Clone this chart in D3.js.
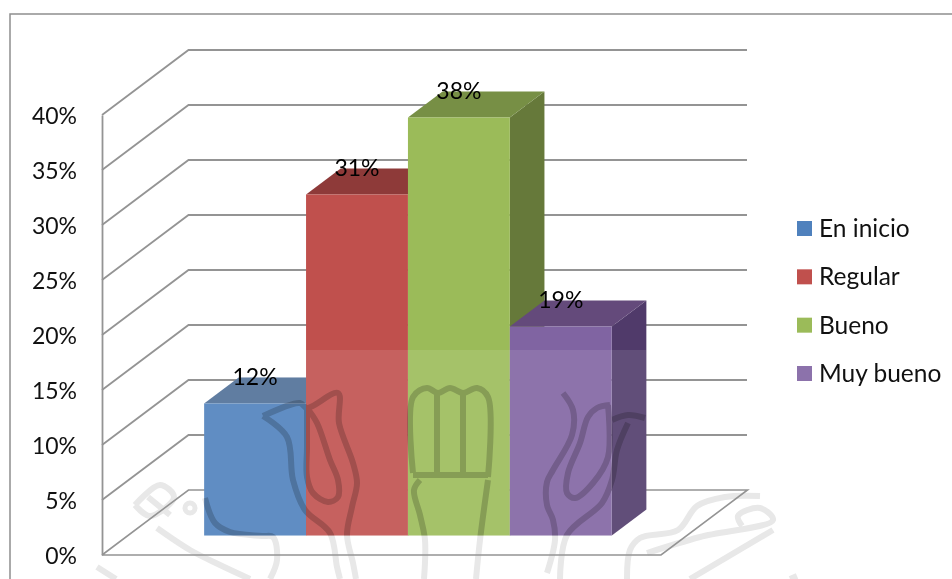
<!DOCTYPE html>
<html lang="es">
<head>
<meta charset="utf-8">
<script src="https://cdn.jsdelivr.net/npm/d3@7/dist/d3.min.js"></script>
<style>
  html, body { margin: 0; padding: 0; background: #fff; }
  svg { display: block; }
  text { font-family: Lato, "Open Sans", sans-serif; }
</style>
</head>
<body>
<svg id="chart" width="952" height="579"></svg>
<script>
// Chart data
const categories = ["En inicio", "Regular", "Bueno", "Muy bueno"];
const percentages = [12, 31, 38, 19];
const yTicks = [0, 5, 10, 15, 20, 25, 30, 35, 40];

// Face colours per series: front, top, side
const frontColors = ["#4F81BD", "#C0504D", "#9BBB59", "#8064A2"];
const topColors = ["#4F6F97", "#8E3A39", "#778F45", "#644A7B"];
const sideColors = ["#3A5F8C", "#8A3735", "#66793A", "#503A6A"];

// Oblique projection: depth 0 is the front of the floor, depth 1 the back wall
const depthX = 86.5, depthY = -65;
const project = (x, y, d) => [x + depthX * d, y + depthY * d];

const floorLeft = 102, floorRight = 661, floorY = 555;
const y = d3.scaleLinear().domain([0, 40]).range([floorY, 115]);
const x = d3.scaleBand().domain(categories).range([177.4, 585]);
const barFront = 0.3, barBack = 0.7;

const svg = d3.select("#chart");
const polygon = pts => "M" + pts.map(p => p.join(",")).join("L") + "Z";

// Crest strokes behind the chart, and tinted again where they cross the bars
const crest = [
  [[263,416],[287,437],[293,480],[305,510],[330,533],[337,567],[340,579]],
  [[263,416],[300,403],[307,408],[338,393],[339,423],[353,463],[357,483],[352,507],[347,535],[353,563],[356,579]],
  [[307,408],[317,423],[330,460],[338,480],[338,497],[328,502],[313,493],[307,477],[307,447],[307,408]],
  [[205,498],[215,523],[230,532],[262,536],[273,537],[277,560],[270,579]],
  [[157,528],[190,550],[220,565],[250,579]],
  [[413,473],[413,397],[427,388],[438,393],[450,388],[463,393],[477,388],[488,397],[488,477]],
  [[437,393],[437,473]],
  [[463,393],[463,473]],
  [[413,475],[488,475]],
  [[420,480],[414,490],[420,515],[425,540],[424,579]],
  [[488,480],[480,540],[476,579]],
  [[563,393],[573,410],[572,435],[553,470],[547,482],[547,505],[553,520],[555,540],[547,573]],
  [[610,405],[597,408],[588,417],[580,443],[568,473],[567,493],[575,498],[593,483],[608,457],[608,405]],
  [[612,420],[628,415],[645,418]],
  [[628,423],[617,450],[612,480],[602,503],[567,535],[560,579]],
  [[627,579],[630,550],[640,538],[678,530],[697,506],[725,497],[760,496]],
  [[647,553],[700,537],[773,520],[760,508],[738,516],[742,526]],
  [[690,579],[773,530]],
  [[135,505],[160,485],[174,497],[150,516],[135,505]],
  [[148,497],[170,515]],
  [[97,567],[116,579]],
  [[797,576],[790,579]]
];
const crestLine = d3.line().curve(d3.curveCatmullRom.alpha(0.5));

const crestBack = svg.append("g")
  .attr("fill", "none").attr("stroke", "#E8E8E8").attr("stroke-width", 6)
  .attr("stroke-linejoin", "round");
crestBack.selectAll("path").data(crest).join("path").attr("d", crestLine);
svg.append("circle").attr("cx", 190).attr("cy", 508)
  .attr("r", 5).attr("fill", "none").attr("stroke", "#E8E8E8").attr("stroke-width", 5);

// Chart frame; its right and bottom edges run off the page
svg.append("rect").attr("x", 10).attr("y", 14).attr("width", 960).attr("height", 600)
  .attr("fill", "none").attr("stroke", "#8F8F8F").attr("stroke-width", 1.5);

// Side wall and back wall gridlines
const grid = svg.append("g").attr("fill", "none").attr("stroke", "#949494").attr("stroke-width", 1.8);
grid.selectAll("path").data(yTicks.filter(t => t > 0)).join("path")
  .attr("d", t => {
    const a = [floorLeft, y(t)], b = project(floorLeft, y(t), 1);
    return d3.line()([a, b, [747, b[1]]]);
  });

// Floor outline
grid.append("path").attr("d", d3.line()([
  [floorLeft, floorY], [floorRight, floorY],
  project(floorRight, floorY, 1), project(floorLeft, floorY, 1), [floorLeft, floorY]
])).attr("stroke-width", 1.6);

// Value axis on the front edge
const axis = svg.append("g").attr("transform", `translate(${floorLeft},0)`)
  .call(d3.axisLeft(y).tickValues(yTicks).tickFormat(d => d + "%").tickSize(0).tickPadding(25));
axis.select(".domain").attr("stroke", "#949494").attr("stroke-width", 1.8);
axis.selectAll("text").attr("font-size", 23).attr("fill", "#111").attr("dy", "0.36em");

// Bar faces
const barData = categories.map((c, i) => {
  const x0 = x(c) + depthX * barFront + 0.8, x1 = x0 + x.bandwidth();
  const yBase = y(0) + depthY * barFront, yTop = y(percentages[i]) + depthY * barFront;
  const dx = depthX * (barBack - barFront), dy = depthY * (barBack - barFront);
  return { i, x0, x1, yBase, yTop, dx, dy,
    front: polygon([[x0, yTop], [x1, yTop], [x1, yBase], [x0, yBase]]),
    top: polygon([[x0, yTop], [x0 + dx, yTop + dy], [x1 + dx, yTop + dy], [x1, yTop]]),
    side: polygon([[x1, yTop], [x1 + dx, yTop + dy], [x1 + dx, yBase + dy], [x1, yBase]])
  };
});

const defs = svg.append("defs");
const barClip = defs.append("clipPath").attr("id", "bar-clip");
barData.forEach(b => {
  barClip.append("path").attr("d", b.front);
  barClip.append("path").attr("d", b.side);
  barClip.append("path").attr("d", b.top);
});

const bars = svg.append("g").selectAll("g").data(barData).join("g");
bars.append("path").attr("d", b => b.side).attr("fill", b => sideColors[b.i]);
bars.append("path").attr("d", b => b.top).attr("fill", b => topColors[b.i]);
bars.append("path").attr("d", b => b.front).attr("fill", b => frontColors[b.i]);

// Pale wash over the lower part of the bars
svg.append("rect").attr("clip-path", "url(#bar-clip)")
  .attr("x", 150).attr("y", 350).attr("width", 520).attr("height", 229)
  .attr("fill", "#fff").attr("opacity", 0.1);

// Crest tinted through the bars
svg.append("g").attr("clip-path", "url(#bar-clip)").style("mix-blend-mode", "multiply")
  .attr("fill", "none").attr("stroke", "#CFCFCF").attr("stroke-width", 6)
  .selectAll("path").data(crest).join("path").attr("d", crestLine);

// Value labels above each bar
svg.append("g").selectAll("text").data(barData).join("text")
  .attr("x", b => (b.x0 + b.x1) / 2)
  .attr("y", b => b.yTop - 19)
  .attr("text-anchor", "middle")
  .attr("font-size", 23).attr("fill", "#000")
  .text(b => percentages[b.i] + "%");

// Legend
const legendY = d3.scalePoint().domain(categories).range([228.5, 373.5]);
const legend = svg.append("g").selectAll("g").data(categories).join("g")
  .attr("transform", c => `translate(797,${legendY(c)})`);
legend.append("rect").attr("y", -7.5).attr("width", 15).attr("height", 15)
  .attr("fill", (c, i) => frontColors[i]);
legend.filter((c, i) => i === 3).select("rect").attr("fill", "#8C72AB");
legend.append("text").attr("x", 22).attr("dy", "0.34em")
  .attr("font-size", 24.5).attr("fill", "#111").text(c => c);
</script>
</body>
</html>
